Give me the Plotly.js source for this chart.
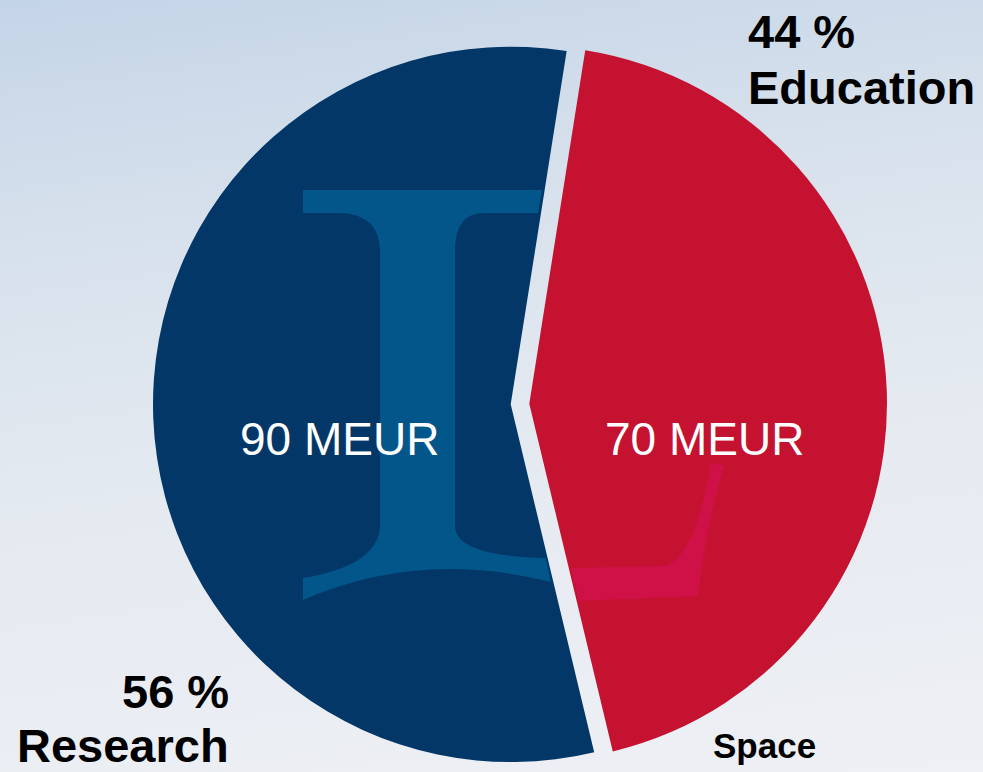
<!DOCTYPE html>
<html>
<head>
<meta charset="utf-8">
<script src="https://cdn.plot.ly/plotly-3.0.1.min.js"></script>
<style>
  html, body { margin: 0; padding: 0; width: 983px; height: 772px; overflow: hidden; }
  body { background: linear-gradient(172deg, #c4d4e7 0%, #d7e1ec 28%, #e5eaf1 58%, #eef0f4 100%); }
  #chart { width: 983px; height: 772px; }
</style>
</head>
<body>
<div id="chart"></div>
<script>
// ---- data ----
const categories = ["Education", "Research"];
const valuesMEUR = [70, 90];
const shareLabels = ["44 %", "56 %"];
const unit = "MEUR";
const sliceColors = ["#c41230", "#033767"];

// ---- helpers (pixel -> paper) ----
const W = 983, H = 772;
const X = px => px / W;
const Y = py => 1 - py / H;
function path(pts) {
  return pts.map(p => {
    if (p[0] === "Z") return "Z";
    let s = p[0];
    for (let i = 1; i < p.length; i += 2) s += " " + X(p[i]).toFixed(4) + "," + Y(p[i + 1]).toFixed(4);
    return s;
  }).join(" ");
}

const trace = {
  type: "pie",
  labels: categories,
  values: valuesMEUR,
  sort: false,
  direction: "clockwise",
  rotation: 9,
  pull: [0.026, 0.026],
  marker: { colors: sliceColors, line: { width: 0 } },
  textinfo: "none",
  hoverinfo: "label+value+percent",
  domain: { x: [X(153), X(887)], y: [Y(771), Y(37)] },
  showlegend: false
};

// decorative logo ("I" and curved "L") drawn as shapes
const logoI = path([
  ["M", 303, 190], ["L", 542, 190], ["L", 538, 213], ["L", 484, 213],
  ["Q", 456, 213, 455, 248], ["L", 455, 528],
  ["Q", 458, 556, 546, 558], ["L", 551, 582],
  ["Q", 420, 549, 303, 600], ["L", 303, 578],
  ["Q", 376, 566, 380, 528], ["L", 380, 252],
  ["Q", 380, 213, 338, 213], ["L", 303, 213], ["Z"]
]);
const logoL = path([
  ["M", 571, 568], ["L", 665, 566],
  ["Q", 696, 556, 711, 462], ["L", 724, 466],
  ["Q", 704, 535, 698, 596], ["L", 579, 601], ["Z"]
]);

const ff = "Liberation Sans, Arial, sans-serif";
const blackBold = size => ({ family: ff, size: size, color: "#000000" });
const annotations = [
  { text: "<b>" + shareLabels[0] + "</b>", x: X(746), y: Y(31), xanchor: "left", yanchor: "middle", font: blackBold(47) },
  { text: "<b>" + categories[0] + "</b>", x: X(746), y: Y(88), xanchor: "left", yanchor: "middle", font: blackBold(47) },
  { text: "<b>" + shareLabels[1] + "</b>", x: X(231), y: Y(691), xanchor: "right", yanchor: "middle", font: blackBold(47) },
  { text: "<b>" + categories[1] + "</b>", x: X(231), y: Y(745), xanchor: "right", yanchor: "middle", font: blackBold(47) },
  { text: "<b>Space</b>", x: X(711), y: Y(745), xanchor: "left", yanchor: "middle", font: blackBold(35) },
  { text: valuesMEUR[1] + " " + unit, x: X(238), y: Y(439), xanchor: "left", yanchor: "middle", font: { family: ff, size: 46, color: "#ffffff" } },
  { text: valuesMEUR[0] + " " + unit, x: X(603), y: Y(439), xanchor: "left", yanchor: "middle", font: { family: ff, size: 46, color: "#ffffff" } }
].map(a => Object.assign({ xref: "paper", yref: "paper", showarrow: false }, a));

const layout = {
  width: W, height: H,
  margin: { l: 0, r: 0, t: 0, b: 0 },
  paper_bgcolor: "rgba(0,0,0,0)",
  plot_bgcolor: "rgba(0,0,0,0)",
  showlegend: false,
  shapes: [
    { type: "path", xref: "paper", yref: "paper", path: logoI, fillcolor: "#02568a", line: { width: 0 }, layer: "above" },
    { type: "path", xref: "paper", yref: "paper", path: logoL, fillcolor: "#cf1148", line: { width: 0 }, layer: "above" }
  ],
  annotations: annotations
};

Plotly.newPlot("chart", [trace], layout, { staticPlot: true, displayModeBar: false });
</script>
</body>
</html>
